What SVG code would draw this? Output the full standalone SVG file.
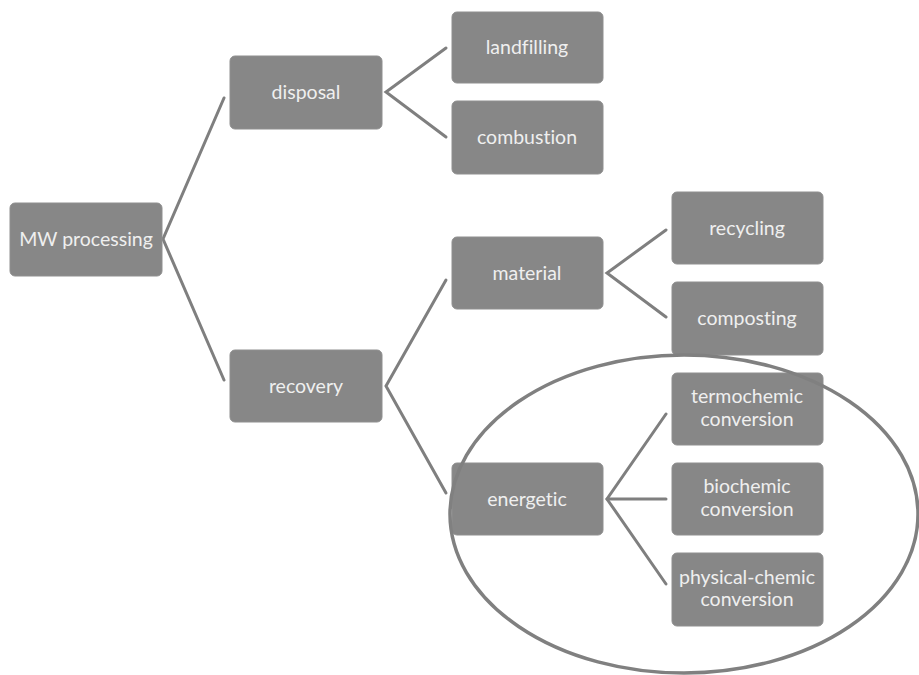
<svg xmlns="http://www.w3.org/2000/svg" width="919" height="675" viewBox="0 0 919 675">
<style>
.box{fill:#878787;stroke:#8f8f8f;stroke-width:1}
.t{font-family:Lato,"Liberation Sans",sans-serif;font-size:19.5px;fill:#efefef;text-anchor:middle;font-variant-ligatures:none}
.c{stroke:#7f7f7f;stroke-width:3;fill:none;stroke-linecap:round}
</style>
<rect width="919" height="675" fill="#ffffff"/>
<g id="connectors">
<polyline class="c" points="224,98 163,239 224,380"/>
<polyline class="c" points="446,48 386,92 446,137"/>
<polyline class="c" points="446,280 386,386 446,493"/>
<polyline class="c" points="666,230 607,273 666,317"/>
<polyline class="c" points="666,414 607,499 666,584"/>
<line class="c" x1="607" y1="499" x2="666" y2="499"/>
</g>
<g id="n-mw"><rect class="box" x="10" y="203" width="152" height="73" rx="5"/><text class="t" x="86" y="246">MW processing</text></g>
<g id="n-disposal"><rect class="box" x="230" y="56" width="152" height="73" rx="5"/><text class="t" x="306" y="99">disposal</text></g>
<g id="n-recovery"><rect class="box" x="230" y="350" width="152" height="72" rx="5"/><text class="t" x="306" y="393">recovery</text></g>
<g id="n-landfilling"><rect class="box" x="452" y="12" width="151" height="71" rx="5"/><text class="t" x="527" y="54">landfilling</text></g>
<g id="n-combustion"><rect class="box" x="452" y="101" width="151" height="73" rx="5"/><text class="t" x="527" y="144">combustion</text></g>
<g id="n-material"><rect class="box" x="452" y="237" width="151" height="72" rx="5"/><text class="t" x="527" y="280">material</text></g>
<g id="n-energetic"><rect class="box" x="452" y="463" width="151" height="72" rx="5"/><text class="t" x="527" y="506">energetic</text></g>
<g id="n-recycling"><rect class="box" x="672" y="192" width="151" height="72" rx="5"/><text class="t" x="747" y="235">recycling</text></g>
<g id="n-composting"><rect class="box" x="672" y="282" width="151" height="73" rx="5"/><text class="t" x="747" y="325">composting</text></g>
<g id="n-termo"><rect class="box" x="672" y="373" width="151" height="72" rx="5"/><text class="t" x="747" y="403">termochemic</text><text class="t" x="747" y="426">conversion</text></g>
<g id="n-bio"><rect class="box" x="672" y="463" width="151" height="72" rx="5"/><text class="t" x="747" y="493">biochemic</text><text class="t" x="747" y="516">conversion</text></g>
<g id="n-phys"><rect class="box" x="672" y="553" width="151" height="73" rx="5"/><text class="t" x="747" y="584">physical-chemic</text><text class="t" x="747" y="606">conversion</text></g>
<g id="highlight"><ellipse cx="684" cy="514" rx="234" ry="159" fill="none" stroke="#808080" stroke-width="3.5"/></g>
</svg>
